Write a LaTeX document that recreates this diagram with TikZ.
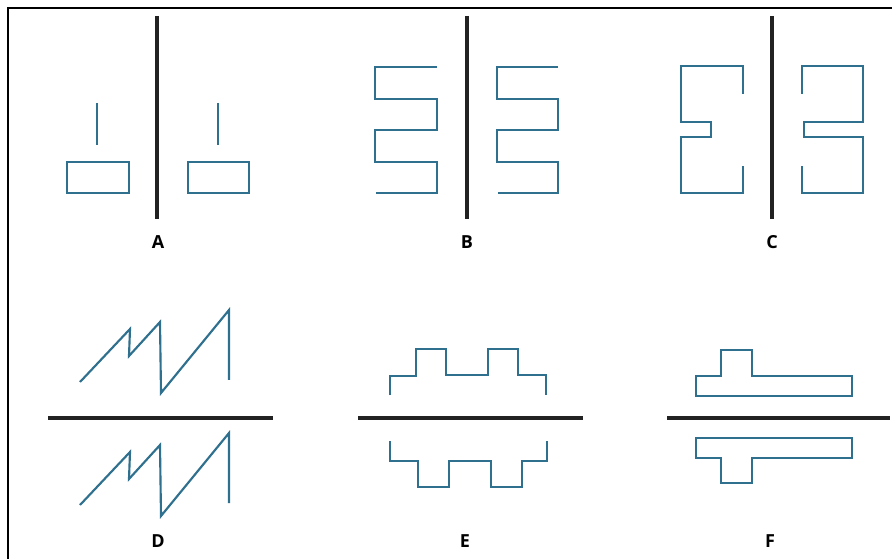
\documentclass[tikz,border=0pt]{standalone}
\usepackage{fontspec}
\setmainfont{Open Sans}
\definecolor{wire}{RGB}{46,112,142}
\definecolor{axis}{RGB}{34,34,34}
\tikzset{
  wire/.style={draw=wire, line width=1.6pt, line join=miter},
  axisline/.style={draw=axis, line width=3pt},
  frameline/.style={draw=black, line width=1.1pt},
  lab/.style={font=\bfseries\fontsize{13.5}{15}\selectfont, text=black, inner sep=0pt}
}
\begin{document}
\begin{tikzpicture}[x=0.75pt, y=-0.75pt]
\useasboundingbox (0,0) rectangle (892,559);
\fill[white] (0,0) rectangle (892,559);
\draw[frameline] (8,559) -- (8,8) -- (892,8);
% A
\draw[axisline] (157,16) -- (157,219);
\draw[wire] (97,103) -- (97,145);
\draw[wire] (67,162) rectangle (129,193);
\draw[wire] (218,103) -- (218,145);
\draw[wire] (188,162) rectangle (249,193);
\node[lab] (la) at (158,242) {A};
% B
\draw[axisline] (467,16) -- (467,219);
\draw[wire] (437,67) -- (375,67) -- (375,99) -- (437,99) -- (437,130) -- (375,130) -- (375,162) -- (437,162) -- (437,193) -- (376,193);
\draw[wire] (558,67) -- (497,67) -- (497,99) -- (558,99) -- (558,130) -- (497,130) -- (497,162) -- (558,162) -- (558,193) -- (498,193);
\node[lab] (lb) at (467,242) {B};
% C
\draw[axisline] (772,16) -- (772,219);
\draw[wire] (743,94) -- (743,66) -- (681,66) -- (681,122) -- (711,122) -- (711,137) -- (681,137) -- (681,193) -- (743,193) -- (743,166);
\draw[wire] (802,94) -- (802,66) -- (863,66) -- (863,122) -- (804,122) -- (804,137) -- (863,137) -- (863,193) -- (802,193) -- (802,166);
\node[lab] (lc) at (772,242) {C};
% D
\draw[axisline] (48,418) -- (273,418);
\draw[wire] (80,382) -- (130,329) -- (129,356) -- (160,322) -- (161,393) -- (229,310) -- (229,380);
\draw[wire] (80,505) -- (130,452) -- (129,479) -- (160,445) -- (161,516) -- (229,433) -- (229,503);
\node[lab] (ld) at (158,541) {D};
% E
\draw[axisline] (358,418) -- (583,418);
\draw[wire] (390,395) -- (390,376) -- (416,376) -- (416,349) -- (446,349) -- (446,375) -- (488,375) -- (488,349) -- (518,349) -- (518,375) -- (546,375) -- (546,395);
\draw[wire] (390,441) -- (390,461) -- (418,461) -- (418,487) -- (449,487) -- (449,461) -- (491,461) -- (491,487) -- (522,487) -- (522,461) -- (547,461) -- (547,441);
\node[lab] (le) at (465,541) {E};
% F
\draw[axisline] (667,418) -- (890,418);
\draw[wire] (696,376) -- (721,376) -- (721,350) -- (752,350) -- (752,376) -- (852,376) -- (852,396) -- (696,396) -- cycle;
\draw[wire] (696,438) -- (852,438) -- (852,458) -- (752,458) -- (752,483) -- (721,483) -- (721,458) -- (696,458) -- cycle;
\node[lab] (lf) at (770,541) {F};
\end{tikzpicture}
\end{document}
